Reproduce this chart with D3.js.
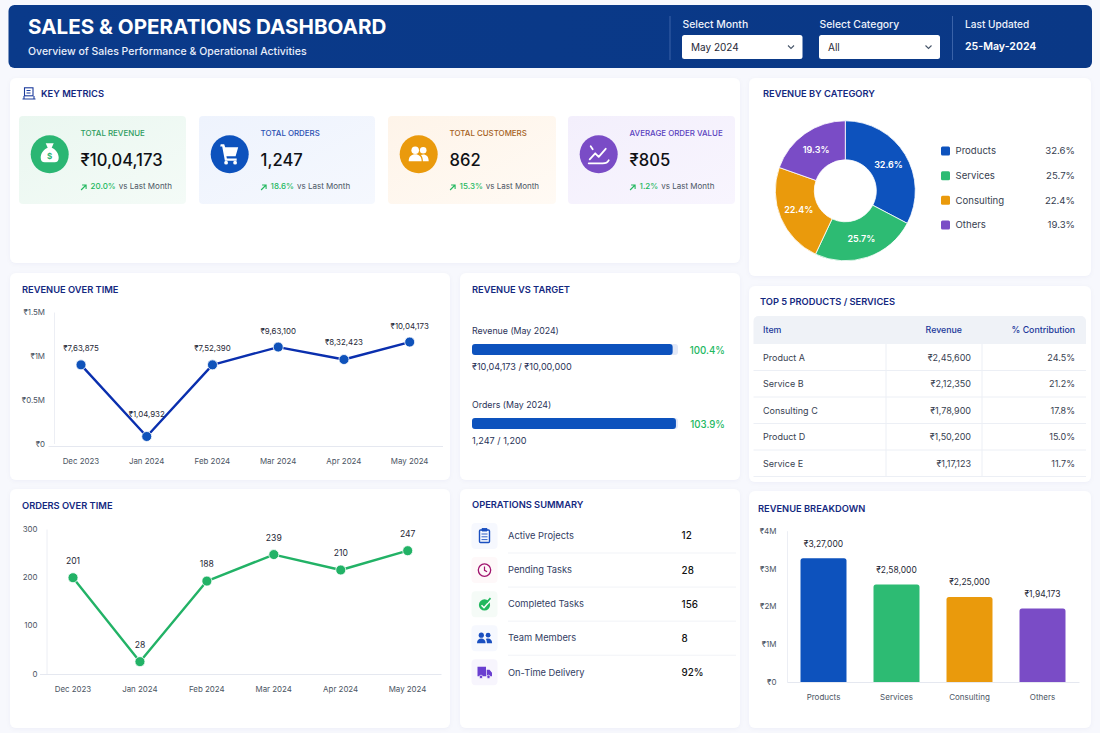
<!DOCTYPE html>
<html><head><meta charset="utf-8">
<style>
html,body{margin:0;padding:0;background:#f7f8fd;overflow:hidden}
svg{display:block}
text{font-family:Inter,"Noto Sans",sans-serif}
</style>
<script src="https://cdn.jsdelivr.net/npm/d3@7/dist/d3.min.js"></script>
</head><body><div id="c"></div>
<script>
// ---------- data ----------
const months = ["Dec 2023","Jan 2024","Feb 2024","Mar 2024","Apr 2024","May 2024"];
const revenuePlotted = [0.897,0.08,0.897,1.10,0.958,1.157];
const revenueLabels = ["₹7,63,875","₹1,04,932","₹7,52,390","₹9,63,100","₹8,32,423","₹10,04,173"];
const revenueTicks = [0,0.5,1,1.5];
const revenueTickLabels = ["₹0","₹0.5M","₹1M","₹1.5M"];
const ordersPlotted = [199,25,192,247,215,255];
const ordersLabels = ["201","28","188","239","210","247"];
const ordersTicks = [0,100,200,300];
const categories = ["Products","Services","Consulting","Others"];
const categoryShare = [32.6,25.7,22.4,19.3];
const categoryArcShare = [32.7,24.3,23.4,19.6];
const breakdownValues = [3.27,2.58,2.25,1.94173];
const breakdownLabels = ["₹3,27,000","₹2,58,000","₹2,25,000","₹1,94,173"];
const breakdownTicks = [0,1,2,3,4];
const kpiLabels = ["TOTAL REVENUE","TOTAL ORDERS","TOTAL CUSTOMERS","AVERAGE ORDER VALUE"];
const kpiValues = ["₹10,04,173","1,247","862","₹805"];
const kpiDeltas = ["20.0%","18.6%","15.3%","1.2%"];
const targetLabels = ["Revenue (May 2024)","Orders (May 2024)"];
const targetPercents = ["100.4%","103.9%"];
const targetFillShare = [97.4,99.0];
const targetDetails = ["₹10,04,173 / ₹10,00,000","1,247 / 1,200"];
const tableHeader = ["Item","Revenue","% Contribution"];
const tableItems = ["Product A","Service B","Consulting C","Product D","Service E"];
const tableRevenue = ["₹2,45,600","₹2,12,350","₹1,78,900","₹1,50,200","₹1,17,123"];
const tableShare = ["24.5%","21.2%","17.8%","15.0%","11.7%"];
const opsLabels = ["Active Projects","Pending Tasks","Completed Tasks","Team Members","On-Time Delivery"];
const opsValues = ["12","28","156","8","92%"];

// ---------- palette ----------
const catColor = d3.scaleOrdinal(categories,["#0d52bd","#2dbb73","#ea9a0c","#7a4cc6"]);
const NAVY="#14287f", INK="#111827", GREY="#4b5563", GREEN="#22b85f";

const svg=d3.select("#c").append("svg").attr("width",1100).attr("height",733);
const defs=svg.append("defs");
const f=defs.append("filter").attr("id","sh").attr("x","-5%").attr("y","-5%").attr("width","110%").attr("height","115%");
f.append("feDropShadow").attr("dx",0).attr("dy",1).attr("stdDeviation",2).attr("flood-color","#26357a").attr("flood-opacity",0.04);
const hg=defs.append("linearGradient").attr("id","hdr");
hg.append("stop").attr("offset","0").attr("stop-color","#0a3a8a");
hg.append("stop").attr("offset","1").attr("stop-color","#0a3886");

function T(p,x,y,s,o={}){
  return p.append("text").attr("x",x).attr("y",y).attr("dy","0.35em").text(s)
   .attr("font-size",o.size||10).attr("font-weight",o.w||400).attr("fill",o.fill||INK)
   .attr("text-anchor",o.a||"start");
}
function panel(x0,y0,x1,y1){svg.append("rect").attr("x",x0).attr("y",y0).attr("width",x1-x0).attr("height",y1-y0).attr("rx",6).attr("fill","#fff").attr("filter","url(#sh)");}
function title(x,y,s){return T(svg,x,y,s,{size:9.3,w:600,fill:NAVY});}

// ---------- header ----------
svg.append("rect").attr("x",8.5).attr("y",5).attr("width",1083.5).attr("height",63).attr("rx",6).attr("fill","url(#hdr)");
T(svg,28,27,"SALES & OPERATIONS DASHBOARD",{size:20.6,w:700,fill:"#fff"});
T(svg,28,51.5,"Overview of Sales Performance & Operational Activities",{size:10.5,w:500,fill:"#e8eefb"});
[670,952.5].forEach(x=>svg.append("line").attr("x1",x).attr("x2",x).attr("y1",16).attr("y2",60).attr("stroke","#3a62a8").attr("stroke-width",1));
[["Select Month","May 2024",682,120.5],["Select Category","All",819,121]].forEach(([l,v,x,w])=>{
  T(svg,x+0.5,24.5,l,{size:10.4,w:500,fill:"#eef2fb"});
  svg.append("rect").attr("x",x).attr("y",35).attr("width",w).attr("height",24).attr("rx",2.5).attr("fill","#fff");
  T(svg,x+9,47,v,{size:10,w:400,fill:"#1f2937"});
  svg.append("path").attr("d",`M${x+w-14.5} 45.5l3 3l3-3`).attr("fill","none").attr("stroke","#475569").attr("stroke-width",1.1);
});
T(svg,965,24.5,"Last Updated",{size:10.1,w:500,fill:"#eef2fb"});
T(svg,965,46.5,"25-May-2024",{size:10.6,w:600,fill:"#fff"});

// ---------- panels ----------
panel(10,78,740,263);panel(749,78,1091,276);panel(10,273,450,480);panel(460,273,740,480);
panel(749,286,1091,482);panel(10,489,450,728);panel(460,489,740,728);panel(749,491,1091,728);

// ---------- key metrics ----------
title(41,93.3,"KEY METRICS");
const km=svg.append("g").attr("transform","translate(22,87)").attr("fill","none").attr("stroke","#1a3a9c").attr("stroke-width",1.1);
km.append("rect").attr("x",2.5).attr("y",0.8).attr("width",8.5).attr("height",8);
km.append("path").attr("d","M0.5 12h13M4.5 3.5h4M4.5 6h4M2 9v3M12 9v3");

const cardLeft=[19,199,388,568], cardRight=[186,375,556,735];
const cardBg=["#eaf7f0","#eef3fd","#fef4e9","#f3effc"], cardTint=["#f4fbf7","#f5f8fe","#fffaf4","#f8f5fe"];
const cardIcon=["#2bb673","#0d52bd","#ea9a0c","#7a4cc6"], cardLabel=["#2d9c5e","#2b50b2","#a5611c","#5b42bf"];
kpiLabels.forEach((lab,i)=>{
  const g=defs.append("linearGradient").attr("id","cg"+i).attr("x1",0).attr("y1",0).attr("x2",1).attr("y2",1);
  g.append("stop").attr("offset","0").attr("stop-color",cardBg[i]);
  g.append("stop").attr("offset","1").attr("stop-color",cardTint[i]);
  const x=cardLeft[i], w=cardRight[i]-x;
  svg.append("rect").attr("x",x).attr("y",116).attr("width",w).attr("height",88).attr("rx",4).attr("fill",`url(#cg${i})`);
  const cx=x+30.7, tx=x+61.6;
  svg.append("circle").attr("cx",cx).attr("cy",154.3).attr("r",19).attr("fill",cardIcon[i]);
  T(svg,tx,133,lab,{size:7.9,w:500,fill:cardLabel[i]});
  T(svg,tx,160.5,kpiValues[i],{size:16.6,w:500,fill:"#0f1115"});
  svg.append("path").attr("d",`M${tx+0.5} 190l5-5M${tx+1.5} 185h4v4`).attr("fill","none").attr("stroke",GREEN).attr("stroke-width",1.1);
  const d=T(svg,tx+10,186.5,"",{size:8});
  d.append("tspan").text(kpiDeltas[i]).attr("fill",GREEN).attr("font-weight",500);
  d.append("tspan").text("vs Last Month").attr("dx",3).attr("fill",GREY);
  const ic=svg.append("g").attr("transform",`translate(${cx},154.3)`);
  if(i===0){
    ic.append("path").attr("d","M-4 -11h8l-2 4.5c4.5 2 7 6 7 10c0 3-1.5 4.5-4 4.5h-10c-2.5 0-4-1.5-4-4.5c0-4 2.5-8 7-10z").attr("fill","#fff");
    T(ic,0,2,"$",{size:8,w:700,fill:cardIcon[0],a:"middle"});
  } else if(i===1){
    ic.append("path").attr("d","M-9 -10h3.5l1 3h13l-2.6 9h-9.2l.5 2.2h9.8v2.3h-11.8l-2.7-14.2h-2z").attr("fill","#fff");
    ic.append("circle").attr("cx",-3.6).attr("cy",8.4).attr("r",1.9).attr("fill","#fff");
    ic.append("circle").attr("cx",5.4).attr("cy",8.4).attr("r",1.9).attr("fill","#fff");
  } else if(i===2){
    [[-3.5,-4,3.8],[4.5,-4,3.3]].forEach(c=>ic.append("circle").attr("cx",c[0]).attr("cy",c[1]).attr("r",c[2]).attr("fill","#fff"));
    ic.append("path").attr("d","M-10 7c0-5 3-7 6.5-7s6.5 2 6.5 7zM4.2 7c0-2.5-.6-4.8-2-6.3c.8-.4 1.6-.6 2.4-.6c3 0 5.4 2 5.4 6.9z").attr("fill","#fff");
  } else {
    ic.append("path").attr("d","M-9 5l5.5-6l3.5 3.5l7-8M-10 9h14c3 0 5-1 6-3M-8 -8l2 3").attr("fill","none").attr("stroke","#fff").attr("stroke-width",1.8).attr("stroke-linecap","round").attr("stroke-linejoin","round");
  }
});

// ---------- donut ----------
title(763,93.3,"REVENUE BY CATEGORY");
const pie=d3.pie().sort(null).value(d=>d)(categoryArcShare);
const arc=d3.arc().innerRadius(31).outerRadius(70);
const dn=svg.append("g").attr("transform","translate(845.3,190.8)");
dn.selectAll("path").data(pie).join("path").attr("d",arc).attr("fill",(d,i)=>catColor(categories[i])).attr("stroke","#fff").attr("stroke-width",0.8);
dn.selectAll("text").data(pie).join("text").attr("transform",d=>`translate(${arc.centroid(d)})`).attr("dy","0.35em")
  .attr("text-anchor","middle").attr("font-size",9).attr("font-weight",600).attr("fill","#fff").text((d,i)=>categoryShare[i].toFixed(1)+"%");
const legendY=d3.scalePoint(categories,[151,225]);
categories.forEach((c,i)=>{
  svg.append("rect").attr("x",941).attr("y",legendY(c)-4.5).attr("width",9).attr("height",9).attr("rx",1.5).attr("fill",catColor(c));
  T(svg,955.5,legendY(c),c,{size:9.6,fill:"#374151"});
  T(svg,1075,legendY(c),categoryShare[i].toFixed(1)+"%",{size:9.6,fill:"#374151",a:"end"});
});

// ---------- line charts ----------
function lineChart(o){
  const g=svg.append("g");
  const x=d3.scalePoint(months,o.xRange), y=d3.scaleLinear([0,o.top],o.yRange);
  const ya=g.append("g").attr("transform",`translate(${o.axisX},0)`).call(d3.axisLeft(y).tickValues(o.ticks).tickSize(0).tickPadding(o.pad).tickFormat(o.fmt));
  ya.select(".domain").attr("stroke","#eceef4");
  const xa=g.append("g").attr("transform",`translate(0,${o.baseY})`).call(d3.axisBottom(d3.scaleBand(months,o.bandRange)).tickSize(0).tickPadding(o.xPad));
  xa.select(".domain").attr("stroke","#e5e8f0");
  g.selectAll(".tick text").attr("font-family","Inter,'Noto Sans',sans-serif").attr("font-size",7.9).attr("fill",GREY);
  g.append("path").datum(o.values).attr("fill","none").attr("stroke",o.lineColor).attr("stroke-width",2.4).attr("stroke-linejoin","round")
    .attr("d",d3.line().x((d,i)=>x(months[i])).y(d=>y(d)));
  g.selectAll("circle").data(o.values).join("circle").attr("cx",(d,i)=>x(months[i])).attr("cy",d=>y(d)).attr("r",5).attr("fill",o.dotColor).attr("stroke","#fff").attr("stroke-width",0.8);
  g.selectAll(".lbl").data(o.values).join("text").attr("class","lbl").attr("x",(d,i)=>x(months[i])).attr("y",(d,i)=>y(d)-(o.offsets?o.offsets[i]:17)).attr("dy","0.35em")
    .attr("text-anchor","middle").attr("font-size",o.lblSize).attr("fill","#1f2937").text((d,i)=>o.labels[i]);
}
title(22,289.3,"REVENUE OVER TIME");
lineChart({values:revenuePlotted,labels:revenueLabels,top:1.5,ticks:revenueTicks,fmt:(d)=>revenueTickLabels[revenueTicks.indexOf(d)],
  xRange:[81,409.7],bandRange:[48,442.5],yRange:[443.5,312],axisX:54,baseY:446,pad:9,xPad:12,lineColor:"#0a2fae",dotColor:"#0f52ba",lblSize:7.9,offsets:[17,22,17,16,17.5,16]});
title(22,505.3,"ORDERS OVER TIME");
lineChart({values:ordersPlotted,labels:ordersLabels,top:300,ticks:ordersTicks,fmt:d3.format("d"),
  xRange:[73,407.7],bandRange:[39.5,441],yRange:[673.7,529],axisX:46.5,baseY:674,pad:9,xPad:12,lineColor:"#22b266",dotColor:"#22b266",lblSize:8.6});

// ---------- target ----------
title(472,289.3,"REVENUE VS TARGET");
const tx=d3.scaleLinear([0,100],[472,678]);
[331,405].forEach((yy,i)=>{
  T(svg,472,yy+.3,targetLabels[i],{size:8.8,fill:"#2a3358"});
  svg.append("rect").attr("x",tx(0)).attr("y",yy+13).attr("width",tx(100)-tx(0)).attr("height",11).attr("rx",3).attr("fill","#e3e9f7");
  svg.append("rect").attr("x",tx(0)).attr("y",yy+13).attr("width",tx(targetFillShare[i])-tx(0)).attr("height",11).attr("rx",3).attr("fill","#0d52bd");
  T(svg,725,yy+19.3,targetPercents[i],{size:9.7,w:500,fill:GREEN,a:"end"});
  T(svg,472,yy+36,targetDetails[i],{size:9.1,fill:"#2a3358"});
});

// ---------- table ----------
title(760,301.5,"TOP 5 PRODUCTS / SERVICES");
svg.append("path").attr("d","M753.5 344v-23a5 5 0 0 1 5-5h322.5a5 5 0 0 1 5 5v23z").attr("fill","#eff2f7");
T(svg,763,330.3,tableHeader[0],{size:8.8,w:500,fill:"#20379a"});
T(svg,962,330.3,tableHeader[1],{size:8.8,w:500,fill:"#20379a",a:"end"});
T(svg,1075,330.3,tableHeader[2],{size:8.8,w:500,fill:"#20379a",a:"end"});
const rowY=d3.scaleBand(tableItems,[344,476.5]);
tableItems.forEach((it,i)=>{
  const cy=rowY(it)+rowY.bandwidth()/2+.3;
  T(svg,763,cy,it,{size:9,fill:"#374151"});
  T(svg,971,cy,tableRevenue[i],{size:9,fill:"#374151",a:"end"});
  T(svg,1075,cy,tableShare[i],{size:9,fill:"#374151",a:"end"});
  svg.append("line").attr("x1",753.5).attr("x2",1086).attr("y1",rowY(it)+rowY.bandwidth()).attr("y2",rowY(it)+rowY.bandwidth()).attr("stroke","#eceff5");
});
[886,982].forEach(x=>svg.append("line").attr("x1",x).attr("x2",x).attr("y1",344).attr("y2",477).attr("stroke","#eceff5"));

// ---------- operations ----------
title(472,505,"OPERATIONS SUMMARY");
const opY=d3.scalePoint(opsLabels,[536,672.3]);
const opBg=["#f6f8fe","#fef8f9","#f5fbf7","#f6f8fe","#f7f5fd"];
opsLabels.forEach((l,i)=>{
  const cy=opY(l);
  svg.append("rect").attr("x",471.5).attr("y",cy-13).attr("width",26).attr("height",26).attr("rx",4).attr("fill",opBg[i]);
  T(svg,508,cy,l,{size:9.3,fill:"#333d63"});
  T(svg,681.6,cy,opsValues[i],{size:9.8,w:500,fill:"#111"});
  if(i<4) svg.append("line").attr("x1",508).attr("x2",736).attr("y1",cy+17).attr("y2",cy+17).attr("stroke","#f1f3f7");
  const ic=svg.append("g").attr("transform",`translate(484.5,${cy})`);
  if(i===0){
    ic.append("rect").attr("x",-5).attr("y",-6).attr("width",10).attr("height",12.5).attr("rx",1).attr("fill","none").attr("stroke","#1a4fc0").attr("stroke-width",1.4);
    ic.append("path").attr("d","M-2.5 -7.5h5v2.5h-5zM-3 -2h6M-3 .8h6M-3 3.6h6").attr("fill","#1a4fc0").attr("stroke","#1a4fc0").attr("stroke-width",0.9);
  } else if(i===1){
    ic.append("circle").attr("r",6.2).attr("fill","none").attr("stroke","#a0146e").attr("stroke-width",1.3);
    ic.append("path").attr("d","M0 -3.5v3.8l2.6 1.4").attr("fill","none").attr("stroke","#a0146e").attr("stroke-width",1.2);
  } else if(i===2){
    ic.append("circle").attr("r",5.6).attr("cy",.8).attr("fill","#22b85f");
    ic.append("path").attr("d","M-3 1l2.5 2.6l6.5-7.6").attr("fill","none").attr("stroke","#fff").attr("stroke-width",1.5);
    ic.append("path").attr("d","M2 -1.5l4-4.5").attr("stroke","#22b85f").attr("stroke-width",1.6);
  } else if(i===3){
    [[-3.2,-3,2.6],[3.6,-3,2.4]].forEach(c=>ic.append("circle").attr("cx",c[0]).attr("cy",c[1]).attr("r",c[2]).attr("fill","#1a4fc0"));
    ic.append("path").attr("d","M-7.5 5c0-3 2-4.6 4.3-4.6s4.3 1.6 4.3 4.6zM2.4 5c0-1.8-.4-3.2-1-4.2c.7-.3 1.4-.4 2.2-.4c2.3 0 4 1.6 4 4.6z").attr("fill","#1a4fc0");
  } else {
    ic.append("path").attr("d","M-7 -5.5h8.5v9.5h-8.5zM2.2 -2.5h2.8l2.5 3v3.5h-5.3z").attr("fill","#6a3fd0");
    [[-3.5,4.6],[4,4.6]].forEach(c=>ic.append("circle").attr("cx",c[0]).attr("cy",c[1]).attr("r",1.7).attr("fill","#6a3fd0").attr("stroke",opBg[4]).attr("stroke-width",0.7));
  }
});

// ---------- bars ----------
title(758,508.3,"REVENUE BREAKDOWN");
const bx=d3.scaleBand(categories,[787,1079]).paddingInner(0.37).paddingOuter(0.185);
const by=d3.scaleLinear([0,4],[682,530.7]);
const bg=svg.append("g");
const bya=bg.append("g").attr("transform","translate(787,0)").call(d3.axisLeft(by).tickValues(breakdownTicks).tickSize(0).tickPadding(10.5).tickFormat(d=>d===0?"₹0":`₹${d}M`));
bya.select(".domain").attr("stroke","#eceef4");
const bxa=bg.append("g").attr("transform","translate(0,682)").call(d3.axisBottom(bx).tickSize(0).tickPadding(12));
bxa.select(".domain").attr("stroke","#e5e8f0");
bg.selectAll(".tick text").attr("font-family","Inter,'Noto Sans',sans-serif").attr("font-size",8).attr("fill",GREY);
bg.selectAll(".bar").data(breakdownValues).join("path").attr("class","bar").attr("fill",(d,i)=>catColor(categories[i]))
  .attr("d",(d,i)=>{const a=bx(categories[i]),w=bx.bandwidth(),t=by(d),b=by(0),r=2.5;
    return `M${a} ${b}V${t+r}Q${a} ${t} ${a+r} ${t}H${a+w-r}Q${a+w} ${t} ${a+w} ${t+r}V${b}Z`;});
bg.selectAll(".bl").data(breakdownValues).join("text").attr("class","bl").attr("x",(d,i)=>bx(categories[i])+bx.bandwidth()/2).attr("y",d=>by(d)-14.7).attr("dy","0.35em")
  .attr("text-anchor","middle").attr("font-size",8.5).attr("fill","#1f2937").text((d,i)=>breakdownLabels[i]);
</script></body></html>
